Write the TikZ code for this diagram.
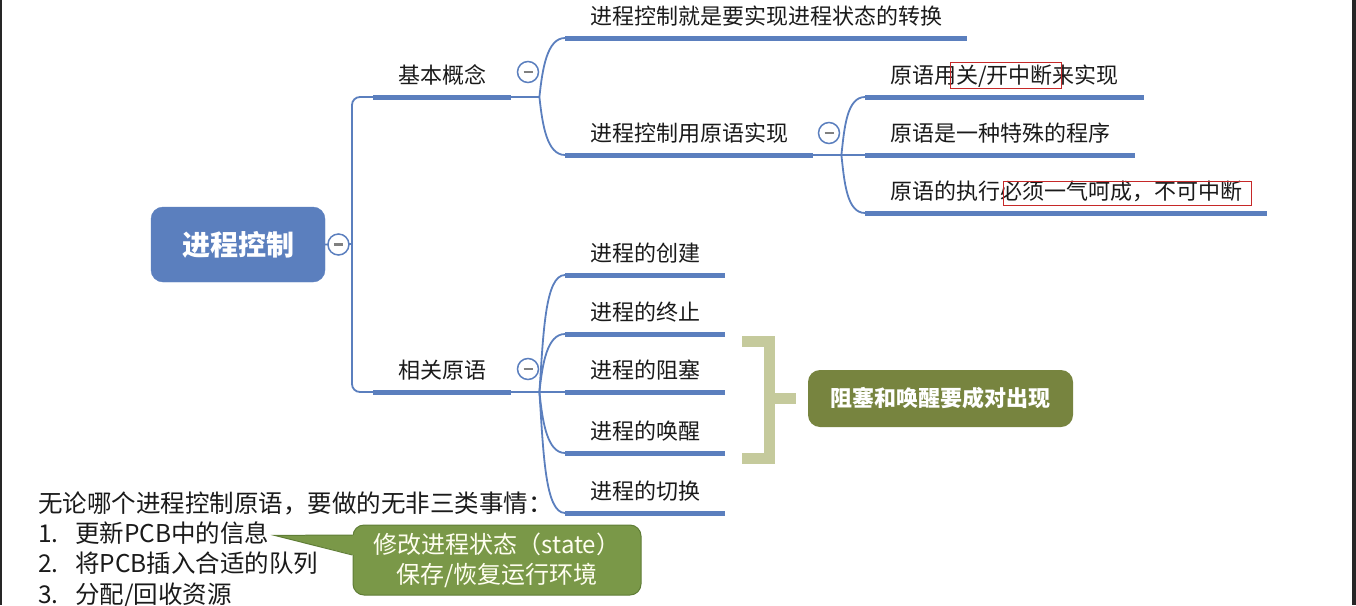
\documentclass[tikz,border=0pt]{standalone}
\usepackage{fontspec}
\setmainfont{Noto Sans CJK SC}
\usepackage{xcolor}
\usetikzlibrary{positioning,calc}

\definecolor{mmblue}{HTML}{5B7FBE}
\definecolor{textblack}{HTML}{1A1A1A}
\definecolor{pairgreen}{HTML}{77843F}
\definecolor{callgreen}{HTML}{7A9848}
\definecolor{callborder}{HTML}{5F7D36}
\definecolor{bracketgreen}{HTML}{C5CA9C}
\definecolor{markred}{HTML}{C62828}

\begin{document}
\begin{tikzpicture}[
    x=1pt, y=-1pt,
    root/.style={rectangle, rounded corners=12pt, fill=mmblue, draw=mmblue, text=white, font=\fontsize{28}{30}\selectfont\bfseries, minimum width=174pt, minimum height=75pt},
    topic/.style={anchor=south west, inner xsep=25pt, inner ysep=0pt, text height=24pt, text depth=13pt, font=\fontsize{22}{24}\selectfont, text=textblack},
    uline/.style={line width=5pt, draw=mmblue},
    conn/.style={line width=1.8pt, draw=mmblue},
    collapse/.style={circle, draw=mmblue, line width=1.5pt, fill=white, minimum size=21pt, inner sep=0pt, path picture={\draw[gray, line width=2.5pt] ([xshift=-4.5pt]path picture bounding box.center) -- ([xshift=4.5pt]path picture bounding box.center);}},
    redbox/.style={draw=markred, line width=1pt},
    bracket/.style={draw=bracketgreen, line width=11pt},
    pairbox/.style={rectangle, rounded corners=12pt, fill=pairgreen, text=white, font=\fontsize{22}{24}\selectfont\bfseries, minimum width=265pt, minimum height=57pt},
    callout/.style={rectangle, rounded corners=11pt, fill=callgreen, draw=callborder, line width=1pt, text=white!94!yellow, align=center, font=\fontsize{24}{30}\selectfont, minimum width=288pt, minimum height=70pt},
    note/.style={inner sep=0pt, text height=22pt, text depth=8pt, font=\fontsize{24.5}{30}\selectfont, text=textblack}
]
\useasboundingbox (0,0) rectangle (1356,605);

% 边框
\fill[black!85] (0,0) rectangle (2,605);
\fill[black!85] (1352,0) rectangle (1356,605);

% 中心主题
\node[root] (root) at (238,244.5) {进程控制};
\coordinate (trunk) at (352,244);

% 一级分支
\node[topic] (basic) at (373,97) {基本概念};
\node[topic] (related) at (373,392) {相关原语};

% 基本概念
\node[topic] (ctrl) at (565,38) {进程控制就是要实现进程状态的转换};
\node[topic] (prim) at (565,155) {进程控制用原语实现};

% 原语的特点
\node[topic] (intr) at (865,97) {原语用关/开中断来实现};
\node[topic] (special) at (865,155) {原语是一种特殊的程序};
\node[topic] (atomic) at (865,213) {原语的执行必须一气呵成，不可中断};

% 相关原语
\node[topic] (create) at (565,275) {进程的创建};
\node[topic] (terminate) at (565,334) {进程的终止};
\node[topic] (block) at (565,392) {进程的阻塞};
\node[topic] (wakeup) at (565,453) {进程的唤醒};
\node[topic] (switch) at (565,513) {进程的切换};

% 下划线
\foreach \n in {basic,related,ctrl,prim,intr,special,atomic,create,terminate,block,wakeup,switch}
    \draw[uline] (\n.south west) -- (\n.south east);

% 分叉点
\coordinate (b1) at ([xshift=28pt]basic.south east);
\coordinate (b2) at ([xshift=28pt]related.south east);
\coordinate (b3) at ([xshift=28pt]prim.south east);

% 连线
\draw[conn] (root.east) -- (trunk);
\draw[conn, rounded corners=8pt] (trunk) |- (basic.south west);
\draw[conn, rounded corners=8pt] (trunk) |- (related.south west);

\draw[conn] (basic.south east) -- (b1);
\draw[conn] (b1) .. controls +(3,-28) and +(-18,0) .. (ctrl.south west);
\draw[conn] (b1) .. controls +(3,28) and +(-18,0) .. (prim.south west);

\draw[conn] (prim.south east) -- (special.south west);
\draw[conn] (b3) .. controls +(3,-28) and +(-18,0) .. (intr.south west);
\draw[conn] (b3) .. controls +(3,28) and +(-18,0) .. (atomic.south west);

\draw[conn] (related.south east) -- (block.south west);
\draw[conn] (b2) .. controls +(4,-58) and +(-20,0) .. (create.south west);
\draw[conn] (b2) .. controls +(3,-28) and +(-18,0) .. (terminate.south west);
\draw[conn] (b2) .. controls +(3,29) and +(-18,0) .. (wakeup.south west);
\draw[conn] (b2) .. controls +(4,60) and +(-20,0) .. (switch.south west);

% 红框标注
\draw[redbox] ($(intr.south west)+(85,-35)$) rectangle ($(intr.south west)+(196,-9)$);
\draw[redbox] ($(atomic.south west)+(138,-32)$) rectangle ($(atomic.south west)+(386,-8)$);

% 阻塞和唤醒
\node[pairbox] (pair) at (940.5,398.5) {阻塞和唤醒要成对出现};
\coordinate (brtop) at ($(terminate.south east)+(17,7.5)$);
\coordinate (brbot) at ($(wakeup.south east)+(17,5)$);
\coordinate (brmid) at ($(terminate.south east)+(44,64.5)$);
\draw[bracket] (brtop) -- ++(27,0) |- (brbot);
\draw[bracket] (brmid) -- ([xshift=-12pt]pair.west);

% 收起按钮
\node[collapse, right=2pt of root] (rootminus) {};
\node[collapse] (basicminus) at (528,72) {};
\node[collapse] (primminus) at (829,133) {};
\node[collapse] (relatedminus) at (528,369) {};

% 三类事情
\node[note, anchor=base west] (note0) at (38,512) {无论哪个进程控制原语，要做的无非三类事情：};
\node[note, below=0pt of note0.south west, anchor=north west] (note1) {\makebox[37pt][l]{1.}更新PCB中的信息};
\node[note, below=0pt of note1.south west, anchor=north west] (note2) {\makebox[37pt][l]{2.}将PCB插入合适的队列};
\node[note, below=0pt of note2.south west, anchor=north west] (note3) {\makebox[37pt][l]{3.}分配/回收资源};

% 标注框
\node[callout] (state) at (497,560) {修改进程状态（state）\\保存/恢复运行环境};
\coordinate (tip) at ([xshift=5pt]note1.east);
\fill[callgreen] (tip) -- ([xshift=1.5pt,yshift=25pt]state.west) -- ([xshift=1.5pt,yshift=5pt]state.west) -- cycle;
\draw[callborder, line width=1pt] ([yshift=25pt]state.west) -- (tip) -- ([yshift=5pt]state.west);

\end{tikzpicture}
\end{document}
